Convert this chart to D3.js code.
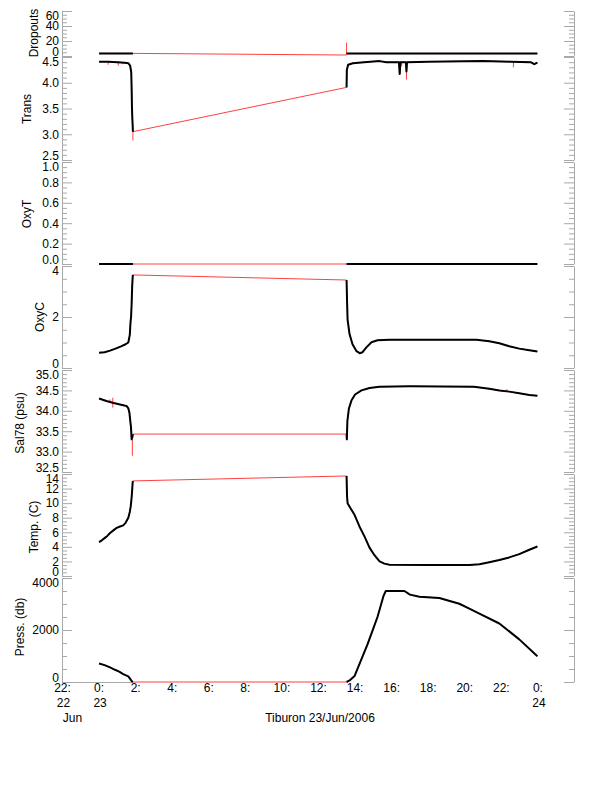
<!DOCTYPE html>
<html><head><meta charset="utf-8">
<script src="https://cdn.jsdelivr.net/npm/d3@7"></script>
<style>
body{margin:0;background:#fff}
text{font-family:"Liberation Sans",Arial,Helvetica,sans-serif;font-size:12px;fill:#000}
</style>
</head><body><svg id="c" width="612" height="785"></svg>
<script>
// ---- time axis (hours relative to 0:00 23 Jun 2006) ----
const xTickHours = [-2,0,2,4,6,8,10,12,14,16,18,20,22,24];
const xTickLine1 = ["22:","0:","2:","4:","6:","8:","10:","12:","14:","16:","18:","20:","22:","0:"];
const xTickLine2 = ["22","23","","","","","","","","","","","","24"];
const xTickLine3 = ["Jun","","","","","","","","","","","","",""];
const xTitle = "Tiburon 23/Jun/2006";

// ---- series: [hour, value] ; seg1 = first cast, seg2 = second cast ----
const dropSeg1 = [[0,3.5],[0.5,3.5],[1.0,3.5],[1.5,3.5],[1.85,3.5]];
const dropSeg2 = [[13.535,3.2],[16,3.2],[20,3.2],[23.97,3.2]];
const dropGapEnd = [[13.52,1.3]];
const dropSpikes = [[13.535,1.3,18]];

const transSeg1 = [[0,4.41],[0.5,4.41],[1.0,4.40],[1.4,4.39],[1.6,4.38],[1.7,4.33],[1.76,4.2],[1.78,3.9],[1.80,3.5],[1.82,3.3],[1.84,3.15],[1.85,3.05]];
const transSeg2 = [[13.535,3.91],[13.55,4.25],[13.62,4.35],[13.88,4.38],[14.5,4.40],[15.34,4.42],[15.71,4.40],[16.40,4.40],[16.44,4.17],[16.48,4.40],[16.78,4.40],[16.81,4.22],[16.84,4.40],[18.0,4.41],[20.98,4.42],[22.5,4.41],[23.6,4.40],[23.8,4.36],[23.97,4.39]];
const transSpikes = [[1.85,3.05,2.88],[16.81,4.30,4.06],[16.55,4.41,4.32],[22.66,4.42,4.30],[0.5,4.41,4.35],[1.05,4.40,4.33],[1.3,4.40,4.36]];

const oxyTSeg1 = [[0,0],[1.85,0]];
const oxyTSeg2 = [[13.535,0],[23.97,0]];

const oxyCSeg1 = [[0,0.6],[0.3,0.62],[0.6,0.68],[0.9,0.76],[1.2,0.85],[1.45,0.93],[1.6,1.0],[1.68,1.3],[1.72,1.8],[1.75,2.0],[1.78,2.5],[1.81,3.2],[1.84,3.6],[1.85,3.65]];
const oxyCSeg2 = [[13.535,3.45],[13.56,2.68],[13.59,1.9],[13.70,1.32],[13.86,0.93],[14.08,0.66],[14.25,0.58],[14.41,0.62],[14.63,0.82],[14.90,1.01],[15.23,1.09],[15.88,1.11],[20.63,1.11],[21.34,1.05],[21.89,0.97],[22.43,0.85],[22.98,0.76],[23.53,0.70],[23.97,0.65]];

const salSeg1 = [[0,34.30],[0.4,34.24],[0.8,34.19],[1.2,34.15],[1.5,34.12],[1.6,34.06],[1.66,33.95],[1.72,33.7],[1.745,33.6],[1.78,33.3],[1.82,33.35],[1.85,33.43]];
const salSeg2 = [[13.535,33.43],[13.55,33.3],[13.58,33.75],[13.66,34.05],[13.8,34.25],[14.0,34.4],[14.35,34.5],[14.79,34.56],[15.34,34.59],[17,34.6],[20.5,34.59],[21.34,34.54],[21.89,34.5],[22.43,34.47],[22.98,34.43],[23.53,34.39],[23.97,34.37]];
const salSpikes = [[0.75,34.32,34.08],[0.6,34.22,34.28],[1.82,33.3,32.9],[22.3,34.46,34.53]];

const tempSeg1 = [[0,4.66],[0.15,4.9],[0.3,5.2],[0.45,5.5],[0.6,5.9],[0.8,6.3],[0.96,6.6],[1.15,6.8],[1.32,6.95],[1.45,7.3],[1.6,8.0],[1.68,8.8],[1.73,9.55],[1.77,10.5],[1.80,11.4],[1.84,12.95],[1.85,13.05]];
const tempSeg2 = [[13.535,13.73],[13.56,11.0],[13.59,10.0],[13.75,9.3],[13.97,8.4],[14.24,6.8],[14.52,5.4],[14.79,3.9],[15.06,2.85],[15.34,2.0],[15.6,1.7],[15.88,1.55],[18,1.5],[20.25,1.5],[20.8,1.6],[21.34,1.9],[21.89,2.2],[22.43,2.55],[22.98,3.0],[23.53,3.6],[23.97,4.05]];

const pressSeg1 = [[0,712],[0.3,650],[0.6,560],[0.87,470],[1.1,400],[1.32,305],[1.6,217],[1.7,120],[1.8,20],[1.85,0]];
const pressSeg2 = [[13.535,0],[13.7,60],[13.97,230],[14.35,880],[14.68,1450],[14.9,1870],[15.23,2510],[15.55,3300],[15.68,3500],[16.7,3500],[17.0,3360],[17.52,3280],[18.61,3230],[19.7,3010],[20.25,2820],[20.8,2630],[21.89,2250],[22.98,1640],[23.97,990]];

// ---- panel definitions (scales) ----
const panels = [
  {title:"Dropouts",   domain:[0,60],     step:20,   minor:5,    fmt:d3.format("d"),   s1:dropSeg1,  s2:dropSeg2,  spikes:dropSpikes},
  {title:"Trans",      domain:[2.5,4.5],  step:0.5,  minor:0.1,  fmt:d3.format(".1f"), s1:transSeg1, s2:transSeg2, spikes:transSpikes},
  {title:"OxyT",       domain:[0,1],      step:0.2,  minor:0.05, fmt:d3.format(".1f"), s1:oxyTSeg1,  s2:oxyTSeg2,  spikes:[]},
  {title:"OxyC",       domain:[0,4],      step:2,    minor:0.5,  fmt:d3.format("d"),   s1:oxyCSeg1,  s2:oxyCSeg2,  spikes:[]},
  {title:"Sal78 (psu)",domain:[32.5,35],  step:0.5,  minor:0.1,  fmt:d3.format(".1f"), s1:salSeg1,   s2:salSeg2,   spikes:salSpikes},
  {title:"Temp. (C)",  domain:[0,14],     step:2,    minor:0.5,  fmt:d3.format("d"),   s1:tempSeg1,  s2:tempSeg2,  spikes:[]},
  {title:"Press. (db)",domain:[0,4000],   step:2000, minor:500,  fmt:d3.format("d"),   s1:pressSeg1, s2:pressSeg2, spikes:[]}
];
// layout
const panelRanges = [[56,11],[160,57],[264,162],[368,266],[472,370],[576,474],[682,578]];
const titlePos = [[34,33],[27,109],[27,214],[40,317],[20,423],[34,527],[20,627]];
const LEFT = 62, RIGHT = 574;
const GREY = "#a9a9a9";
const RED = "#ff4040";

const svg = d3.select("#c");
const toDate = h => new Date(Date.UTC(2006,5,23) + h*3600000);
const x = d3.scaleUtc().domain([toDate(-2), toDate(26)]).range([LEFT+0.5, RIGHT+0.5]);

panels.forEach((p,i) => {
  const y = d3.scaleLinear().domain(p.domain).range(panelRanges[i]);
  const eps = p.step*1e-6;
  const majors = d3.range(p.domain[0], p.domain[1]+eps, p.step).map(v=>+v.toFixed(6));
  const minors = d3.range(p.domain[0], p.domain[1]+eps, p.minor).map(v=>+v.toFixed(6))
      .filter(v => !majors.some(m => Math.abs(m-v) < eps*10));

  // left axis
  const gl = svg.append("g").attr("transform",`translate(${LEFT},0)`);
  gl.call(d3.axisLeft(y).tickValues(majors).tickFormat(p.fmt).tickSizeInner(-10).tickSizeOuter(0).tickPadding(3));
  gl.append("g").call(d3.axisLeft(y).tickValues(minors).tickFormat("").tickSizeInner(-5).tickSizeOuter(0))
    .select(".domain").remove();
  gl.selectAll("path,line").attr("stroke",GREY);
  gl.selectAll("text").attr("fill","#000").style("font-size","12px")
    .attr("font-family",null)
    .attr("dy", (d) => d===majors[majors.length-1] ? "0.72em" : (d===majors[0] ? "-0.05em" : "0.32em"));
  // right axis
  const gr = svg.append("g").attr("transform",`translate(${RIGHT},0)`);
  gr.call(d3.axisRight(y).tickValues(majors).tickFormat("").tickSizeInner(-10).tickSizeOuter(0));
  gr.append("g").call(d3.axisRight(y).tickValues(minors).tickFormat("").tickSizeInner(-5).tickSizeOuter(0))
    .select(".domain").remove();
  gr.selectAll("path,line").attr("stroke",GREY);

  // title
  svg.append("text").attr("transform",`translate(${titlePos[i][0]},${titlePos[i][1]}) rotate(-90)`)
    .attr("text-anchor","middle").attr("dy","0.35em").text(p.title);

  const line = d3.line().x(d=>x(toDate(d[0]))).y(d=>y(d[1]));
  let raw = p.s1.concat(p.s2);
  if (i===0) raw = p.s1.concat(dropGapEnd, p.s2);
  if (i===6) {
    // bottom axis stub under the pressure panel
    svg.append("line").attr("x1",LEFT).attr("x2",x(toDate(p.s1[p.s1.length-1][0])))
      .attr("y1",y(0)+0.5).attr("y2",y(0)+0.5).attr("stroke",GREY);
  }
  svg.append("path").datum(raw).attr("d",line).attr("fill","none").attr("stroke",RED).attr("stroke-width",1);
  svg.selectAll(null).data(p.spikes).enter().append("line")
    .attr("x1",d=>x(toDate(d[0]))).attr("x2",d=>x(toDate(d[0])))
    .attr("y1",d=>y(d[1])).attr("y2",d=>y(d[2]))
    .attr("stroke",RED).attr("stroke-width",1);
  [p.s1,p.s2].forEach(s => {
    svg.append("path").datum(s).attr("d",line).attr("fill","none").attr("stroke","#000")
      .attr("stroke-width",2).attr("stroke-linejoin","round");
  });
});

// x tick labels
const xl = svg.append("g");
xl.selectAll(null).data(xTickHours).enter().append("text")
  .attr("x",d=>x(toDate(d))).attr("y",692).attr("text-anchor","middle")
  .text((d,i)=>xTickLine1[i]);
xl.selectAll(null).data(xTickHours).enter().append("text")
  .attr("x",d=>x(toDate(d))+1).attr("y",707).attr("text-anchor","middle")
  .text((d,i)=>xTickLine2[i]);
xl.selectAll(null).data(xTickHours).enter().append("text")
  .attr("x",d=>x(toDate(d))+10).attr("y",722).attr("text-anchor","middle")
  .text((d,i)=>xTickLine3[i]);
svg.append("text").attr("x",320).attr("y",722).attr("text-anchor","middle").text(xTitle);
</script>
</body></html>
